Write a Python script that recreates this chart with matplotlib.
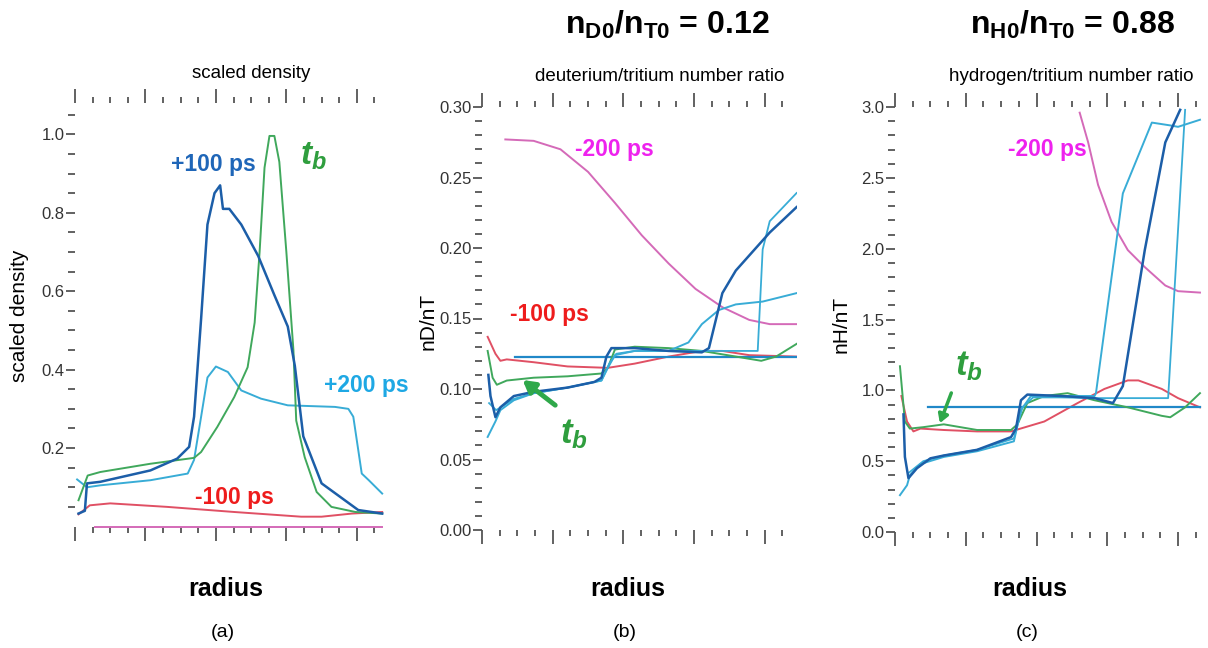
import matplotlib
matplotlib.use('Agg')
import matplotlib.pyplot as plt
from matplotlib.ticker import MultipleLocator, FixedLocator, NullFormatter

plt.rcParams['font.family'] = ['Liberation Sans', 'DejaVu Sans']
plt.rcParams['mathtext.fontset'] = 'custom'
plt.rcParams['mathtext.rm'] = 'Liberation Sans'
plt.rcParams['mathtext.bf'] = 'Liberation Sans:bold'
plt.rcParams['mathtext.it'] = 'Liberation Sans:italic:bold'

# ---- panel (a): scaled density ----
a_green_x = [0.05, 0.18, 0.36, 1.07, 1.69, 1.79, 2.02, 2.26, 2.45, 2.55, 2.62, 2.69, 2.76,
             2.83, 2.9, 3.0, 3.1, 3.14, 3.26, 3.43, 3.64, 3.98, 4.36]
a_green_y = [0.067, 0.13, 0.139, 0.16, 0.175, 0.19, 0.254, 0.33, 0.406, 0.52, 0.70, 0.915, 0.996,
             0.996, 0.93, 0.70, 0.45, 0.27, 0.177, 0.088, 0.05, 0.037, 0.033]
a_blue_x = [0.05, 0.14, 0.17, 0.36, 1.07, 1.45, 1.62, 1.69, 1.79, 1.88, 1.98, 2.06, 2.1, 2.19,
            2.36, 2.6, 2.83, 3.02, 3.12, 3.24, 3.5, 4.02, 4.36]
a_blue_y = [0.033, 0.04, 0.11, 0.114, 0.143, 0.173, 0.203, 0.28, 0.53, 0.77, 0.85, 0.87, 0.81, 0.81,
            0.77, 0.69, 0.59, 0.51, 0.41, 0.23, 0.11, 0.042, 0.033]
a_cyan_x = [0.03, 0.17, 0.36, 1.07, 1.6, 1.69, 1.79, 1.88, 2.0, 2.17, 2.36, 2.64, 3.02, 3.69,
            3.88, 3.95, 4.07, 4.17, 4.36]
a_cyan_y = [0.12, 0.10, 0.105, 0.118, 0.135, 0.17, 0.28, 0.38, 0.408, 0.394, 0.347, 0.326, 0.309,
            0.305, 0.30, 0.28, 0.135, 0.118, 0.084]
a_red_x = [0.05, 0.21, 0.5, 1.31, 2.26, 3.21, 3.5, 3.93, 4.36]
a_red_y = [0.031, 0.054, 0.059, 0.05, 0.037, 0.025, 0.025, 0.033, 0.037]
a_mag_x = [0.29, 4.36]
a_mag_y = [0.0, 0.0]

# ---- panel (b): deuterium/tritium ----
b_mag_x = [0.33, 0.73, 1.11, 1.5, 1.88, 2.26, 2.64, 3.02, 3.4, 3.78, 4.07, 4.45]
b_mag_y = [0.277, 0.276, 0.27, 0.254, 0.232, 0.209, 0.189, 0.171, 0.158, 0.149, 0.146, 0.146]
b_red_x = [0.08, 0.19, 0.26, 0.35, 0.73, 1.21, 1.78, 2.16, 2.64, 3.11, 3.4, 3.78, 4.45]
b_red_y = [0.137, 0.125, 0.12, 0.121, 0.119, 0.116, 0.115, 0.118, 0.123, 0.127, 0.127, 0.124, 0.123]
b_green_x = [0.08, 0.15, 0.21, 0.35, 0.73, 1.21, 1.69, 1.78, 1.88, 2.16, 2.64, 3.11, 3.59, 3.95,
             4.16, 4.45]
b_green_y = [0.127, 0.108, 0.103, 0.106, 0.108, 0.109, 0.111, 0.115, 0.128, 0.130, 0.129, 0.127,
             0.123, 0.120, 0.123, 0.132]
b_blue_x = [0.09, 0.12, 0.19, 0.26, 0.45, 0.73, 1.21, 1.59, 1.69, 1.76, 1.83, 2.16, 2.64, 3.11,
            3.21, 3.4, 3.59, 4.07, 4.45]
b_blue_y = [0.11, 0.095, 0.08, 0.087, 0.095, 0.098, 0.101, 0.105, 0.108, 0.123, 0.129, 0.129,
            0.127, 0.126, 0.129, 0.168, 0.184, 0.211, 0.229]
b_cyan_x = [0.08, 0.19, 0.26, 0.45, 0.73, 1.21, 1.69, 1.78, 1.88, 2.16, 2.64, 2.92, 3.11, 3.35,
            3.59, 3.97, 4.45]
b_cyan_y = [0.066, 0.077, 0.085, 0.092, 0.097, 0.101, 0.106, 0.115, 0.124, 0.127, 0.127, 0.133,
            0.146, 0.156, 0.16, 0.162, 0.168]
b_cyan2_x = [0.1, 0.2, 0.45, 0.73, 1.21, 1.69, 1.8, 1.9, 2.16, 2.64, 3.11, 3.6, 3.9, 3.97, 4.07, 4.45]
b_cyan2_y = [0.09, 0.085, 0.093, 0.097, 0.101, 0.106, 0.118, 0.125, 0.127, 0.127, 0.127, 0.127,
             0.127, 0.199, 0.219, 0.239]
b_flat_x = [0.47, 4.45]
b_flat_y = [0.123, 0.123]

# ---- panel (c): hydrogen/tritium ----
c_mag_x = [2.61, 2.73, 2.87, 3.06, 3.29, 3.53, 3.82, 4.0, 4.31]
c_mag_y = [2.96, 2.75, 2.45, 2.19, 1.99, 1.87, 1.74, 1.70, 1.69]
c_red_x = [0.09, 0.17, 0.26, 0.36, 0.69, 1.16, 1.64, 2.11, 2.58, 2.96, 3.29, 3.44, 3.77, 4.0, 4.31]
c_red_y = [0.96, 0.78, 0.71, 0.73, 0.72, 0.71, 0.71, 0.78, 0.91, 1.01, 1.07, 1.07, 1.01, 0.945, 0.88]
c_green_x = [0.07, 0.14, 0.21, 0.4, 0.69, 1.16, 1.64, 1.73, 1.87, 2.11, 2.44, 2.82, 3.29, 3.77,
             3.89, 4.1, 4.31]
c_green_y = [1.17, 0.78, 0.73, 0.74, 0.76, 0.72, 0.72, 0.76, 0.91, 0.96, 0.98, 0.93, 0.88, 0.82,
             0.81, 0.88, 0.98]
c_blue_x = [0.12, 0.14, 0.19, 0.31, 0.5, 0.69, 1.16, 1.64, 1.71, 1.78, 1.87, 2.35, 2.82, 3.08,
            3.22, 3.53, 3.82, 4.03]
c_blue_y = [0.83, 0.53, 0.38, 0.45, 0.52, 0.54, 0.58, 0.67, 0.73, 0.93, 0.97, 0.96, 0.945, 0.91,
            1.03, 1.99, 2.75, 2.98]
c_cyan_x = [0.07, 0.17, 0.21, 0.36, 0.69, 1.16, 1.68, 1.78, 1.92, 2.35, 2.82, 2.84, 3.22, 3.63,
            3.89, 4.0, 4.31]
c_cyan_y = [0.26, 0.33, 0.40, 0.48, 0.53, 0.57, 0.64, 0.86, 0.96, 0.96, 0.96, 0.98, 2.39, 2.89,
            2.87, 2.86, 2.91]
c_cyan2_x = [0.2, 0.4, 0.69, 1.16, 1.68, 1.8, 1.95, 2.35, 2.84, 3.5, 3.86, 4.1]
c_cyan2_y = [0.42, 0.5, 0.54, 0.58, 0.66, 0.88, 0.95, 0.95, 0.945, 0.945, 0.945, 2.98]
c_flat_x = [0.47, 4.31]
c_flat_y = [0.88, 0.88]

DBLUE = '#1c5ea8'
CYAN = '#38acd6'
FLAT = '#2088c8'
GREEN = '#40a85c'
RED = '#e05064'
MAG = '#d46ab8'
TICK = '#555555'

W, H = 1208, 648
fig = plt.figure(figsize=(W / 100, H / 100), dpi=100)


def px(x, y):
    # pixel position -> figure fraction
    return x / W, 1 - y / H


def style_axes(ax, xmax, ymin, ymax, ymajor, yminor, ylabels):
    ax.set_xlim(0, xmax)
    ax.set_ylim(ymin, ymax)
    for s in ax.spines.values():
        s.set_visible(False)
    ax.xaxis.set_major_locator(MultipleLocator(1))
    ax.xaxis.set_minor_locator(MultipleLocator(0.25))
    ax.xaxis.set_major_formatter(NullFormatter())
    ax.yaxis.set_major_locator(FixedLocator(ymajor))
    ax.yaxis.set_minor_locator(FixedLocator(yminor))
    ax.set_yticklabels(ylabels)
    ax.tick_params(axis='x', which='both', top=True, bottom=True, direction='out',
                   color=TICK, width=1.3)
    ax.tick_params(axis='x', which='major', length=10)
    ax.tick_params(axis='x', which='minor', length=4.5)
    ax.tick_params(axis='y', which='major', direction='out', length=6.5, width=1.3,
                   color=TICK, labelsize=12, labelcolor='#333333', pad=1)
    ax.tick_params(axis='y', which='minor', direction='out', length=5, width=1.3, color=TICK)


# panel (a)
ax1 = fig.add_axes([75 / W, (H - 526.5) / H, 310 / W, 423.5 / H])
ax1.plot(a_red_x, a_red_y, color=RED, lw=1.4)
ax1.plot(a_mag_x, a_mag_y, color=MAG, lw=1.4, clip_on=False)
ax1.plot(a_cyan_x, a_cyan_y, color=CYAN, lw=1.4)
ax1.plot(a_green_x, a_green_y, color=GREEN, lw=1.4)
ax1.plot(a_blue_x, a_blue_y, color=DBLUE, lw=1.8)
style_axes(ax1, 4.4, 0, 1.08, [0.2, 0.4, 0.6, 0.8, 1.0],
           [0.05, 0.1, 0.15, 0.25, 0.3, 0.35, 0.45, 0.5, 0.55, 0.65, 0.7, 0.75, 0.85, 0.9, 0.95, 1.05],
           ['0.2', '0.4', '0.6', '0.8', '1.0'])
ax1.text(1.96, 0.924, '+100 ps', color='#1f66b8', fontsize=16.5, fontweight='bold', ha='center', va='center')
ax1.text(3.39, 0.945, r'$t_b$', color='#2f9e3e', fontsize=24, ha='center', va='center')
ax1.text(4.14, 0.36, '+200 ps', color='#1ea8e4', fontsize=16.5, fontweight='bold', ha='center', va='center')
ax1.text(2.26, 0.075, '-100 ps', color='#ee1c1c', fontsize=16.5, fontweight='bold', ha='center', va='center')

# panel (b)
ax2 = fig.add_axes([482 / W, (H - 530) / H, 314.6 / W, 423 / H])
ax2.plot(b_mag_x, b_mag_y, color=MAG, lw=1.4)
ax2.plot(b_red_x, b_red_y, color=RED, lw=1.4)
ax2.plot(b_flat_x, b_flat_y, color=FLAT, lw=1.6)
ax2.plot(b_green_x, b_green_y, color=GREEN, lw=1.4)
ax2.plot(b_cyan2_x, b_cyan2_y, color=CYAN, lw=1.3)
ax2.plot(b_cyan_x, b_cyan_y, color=CYAN, lw=1.4)
ax2.plot(b_blue_x, b_blue_y, color=DBLUE, lw=1.8)
style_axes(ax2, 4.45, 0, 0.30, [0, 0.05, 0.10, 0.15, 0.20, 0.25, 0.30],
           [i / 100 for i in range(31) if i % 5 != 0],
           ['0.00', '0.05', '0.10', '0.15', '0.20', '0.25', '0.30'])
ax2.text(1.876, 0.2696, '-200 ps', color='#ee22ee', fontsize=16.5, fontweight='bold', ha='center', va='center')
ax2.text(0.948, 0.153, '-100 ps', color='#ee1c1c', fontsize=16.5, fontweight='bold', ha='center', va='center')
ax2.text(1.30, 0.068, r'$t_b$', color='#2f9e3e', fontsize=25, ha='center', va='center')
ax2.annotate('', xy=(0.543, 0.1076), xytext=(1.067, 0.0873),
             arrowprops=dict(arrowstyle='-|>,head_length=0.7,head_width=0.4', color='#2fa84a', lw=3.5))

# panel (c)
ax3 = fig.add_axes([895 / W, (H - 532) / H, 307.8 / W, 425 / H])
ax3.plot(c_mag_x, c_mag_y, color=MAG, lw=1.4)
ax3.plot(c_red_x, c_red_y, color=RED, lw=1.4)
ax3.plot(c_flat_x, c_flat_y, color=FLAT, lw=1.6)
ax3.plot(c_green_x, c_green_y, color=GREEN, lw=1.4)
ax3.plot(c_cyan2_x, c_cyan2_y, color=CYAN, lw=1.3)
ax3.plot(c_cyan_x, c_cyan_y, color=CYAN, lw=1.4)
ax3.plot(c_blue_x, c_blue_y, color=DBLUE, lw=1.8)
style_axes(ax3, 4.35, 0, 3.0, [0, 0.5, 1.0, 1.5, 2.0, 2.5, 3.0],
           [i / 10 for i in range(31) if i % 5 != 0],
           ['0.0', '0.5', '1.0', '1.5', '2.0', '2.5', '3.0'])
ax3.text(2.16, 2.70, '-200 ps', color='#ee22ee', fontsize=16.5, fontweight='bold', ha='center', va='center')
ax3.text(1.04, 1.17, r'$t_b$', color='#2f9e3e', fontsize=25, ha='center', va='center')
ax3.annotate('', xy=(0.62, 0.75), xytext=(0.81, 1.0),
             arrowprops=dict(arrowstyle='-|>,head_length=0.5,head_width=0.3', color='#2fa84a', lw=2.5))

# axis titles and labels
fig.text(*px(251, 78), 'scaled density', fontsize=13.5, ha='center', va='baseline')
fig.text(*px(660, 81), 'deuterium/tritium number ratio', fontsize=13.5, ha='center', va='baseline')
fig.text(*px(1071, 81), 'hydrogen/tritium number ratio', fontsize=13.5, ha='center', va='baseline')
fig.text(*px(20, 316), 'scaled density', fontsize=15, rotation=90, ha='center', va='center')
fig.text(*px(428, 321), 'nD/nT', fontsize=15, rotation=90, ha='center', va='center')
fig.text(*px(841, 324), 'nH/nT', fontsize=15, rotation=90, ha='center', va='center')

fig.text(*px(667, 34), r'$\mathbf{n}_{\mathbf{D0}}\mathbf{/n}_{\mathbf{T0}}$ = 0.12',
         fontsize=23, fontweight='bold', ha='center', va='baseline')
fig.text(*px(1072, 34), r'$\mathbf{n}_{\mathbf{H0}}\mathbf{/n}_{\mathbf{T0}}$ = 0.88',
         fontsize=23, fontweight='bold', ha='center', va='baseline')

for cx, lab in [(226, '(a)'), (628, '(b)'), (1030, '(c)')]:
    fig.text(*px(cx, 596), 'radius', fontsize=18, fontweight='bold', ha='center', va='baseline')
    fig.text(*px(cx - 3, 637), lab, fontsize=14, ha='center', va='baseline')

fig.savefig('out.png', dpi=100)
